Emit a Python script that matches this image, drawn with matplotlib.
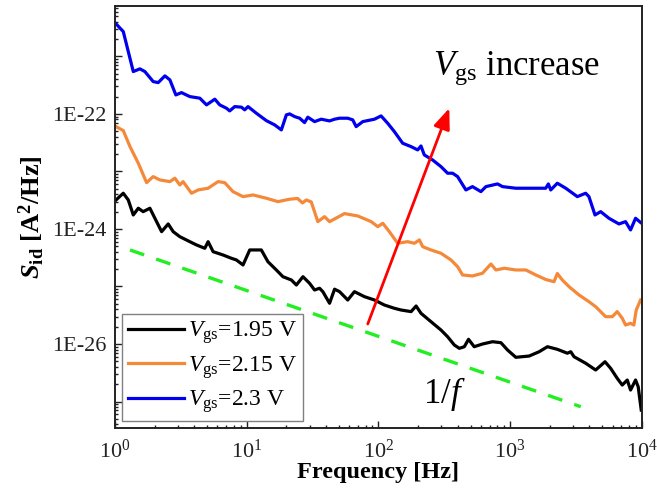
import numpy as np
import matplotlib
matplotlib.use("Agg")
import matplotlib.pyplot as plt
from matplotlib.ticker import FixedLocator, LogLocator, FuncFormatter, NullFormatter

plt.rcParams['font.family'] = ['Liberation Serif', 'DejaVu Serif']
plt.rcParams['mathtext.fontset'] = 'custom'
plt.rcParams['mathtext.rm'] = 'Liberation Serif'
plt.rcParams['mathtext.it'] = 'Liberation Serif:italic'
plt.rcParams['mathtext.bf'] = 'Liberation Serif:bold'
plt.rcParams['mathtext.bfit'] = 'Liberation Serif:italic:bold'

# values, stored as log10(f [Hz]) and log10(S [A^2/Hz])
lgf_195 = [0.008, 0.063, 0.101, 0.139, 0.177, 0.214, 0.265, 0.303, 0.354, 0.404,
           0.442, 0.492, 0.568, 0.619, 0.682, 0.707, 0.745, 0.820, 0.884, 0.922,
           0.972, 1.023, 1.111, 1.161, 1.225, 1.275, 1.339, 1.377, 1.427, 1.477,
           1.515, 1.553, 1.578, 1.629, 1.667, 1.705, 1.767, 1.818, 1.894, 1.970,
           2.045, 2.121, 2.172, 2.248, 2.286, 2.323, 2.399, 2.475, 2.525, 2.576,
           2.614, 2.652, 2.684, 2.727, 2.790, 2.866, 2.930, 2.980, 3.043, 3.144,
           3.220, 3.283, 3.358, 3.434, 3.460, 3.485, 3.573, 3.649, 3.720, 3.763,
           3.813, 3.851, 3.889, 3.914, 3.952, 3.972, 3.995]
lgS_195 = [-23.496, -23.379, -23.496, -23.757, -23.640, -23.699, -23.640, -23.814, -24.047, -23.913,
           -24.047, -24.134, -24.221, -24.278, -24.336, -24.221, -24.395, -24.452, -24.510, -24.539,
           -24.626, -24.365, -24.365, -24.569, -24.713, -24.830, -24.887, -24.974, -24.830, -24.944,
           -25.061, -25.031, -25.090, -25.292, -25.047, -25.090, -25.235, -25.090, -25.177, -25.235,
           -25.322, -25.379, -25.409, -25.437, -25.339, -25.466, -25.612, -25.757, -25.873, -26.017,
           -26.075, -26.047, -25.918, -26.047, -26.000, -25.960, -25.977, -26.104, -26.231, -26.209,
           -26.134, -26.047, -26.092, -26.160, -26.134, -26.221, -26.334, -26.452, -26.308, -26.423,
           -26.597, -26.713, -26.626, -26.800, -26.626, -26.743, -27.148]

lgf_215 = [0.008, 0.063, 0.114, 0.177, 0.240, 0.290, 0.341, 0.417, 0.455, 0.492,
           0.517, 0.581, 0.631, 0.707, 0.783, 0.833, 0.896, 0.972, 1.048, 1.149,
           1.237, 1.326, 1.386, 1.424, 1.452, 1.490, 1.540, 1.591, 1.629, 1.742,
           1.843, 1.945, 1.995, 2.033, 2.083, 2.146, 2.222, 2.273, 2.311, 2.336,
           2.399, 2.475, 2.551, 2.601, 2.639, 2.714, 2.790, 2.854, 2.892, 2.955,
           3.043, 3.119, 3.195, 3.270, 3.333, 3.358, 3.396, 3.447, 3.523, 3.598,
           3.649, 3.725, 3.775, 3.813, 3.851, 3.876, 3.914, 3.939, 3.957, 3.990]
lgS_215 = [-22.221, -22.290, -22.569, -22.857, -23.195, -23.090, -23.148, -23.177, -23.118, -23.235,
           -23.177, -23.379, -23.322, -23.292, -23.177, -23.195, -23.351, -23.438, -23.409, -23.466,
           -23.525, -23.483, -23.470, -23.548, -23.496, -23.530, -23.873, -23.786, -23.873, -23.733,
           -23.774, -23.873, -23.960, -23.901, -24.047, -24.249, -24.221, -24.249, -24.191, -24.308,
           -24.365, -24.423, -24.539, -24.656, -24.800, -24.817, -24.770, -24.609, -24.713, -24.683,
           -24.713, -24.713, -24.800, -24.878, -24.917, -24.774, -24.887, -25.003, -25.148, -25.264,
           -25.351, -25.525, -25.525, -25.437, -25.553, -25.670, -25.640, -25.670, -25.409, -25.235]

lgf_23 = [0.008, 0.063, 0.139, 0.189, 0.227, 0.290, 0.328, 0.379, 0.417, 0.462,
          0.505, 0.568, 0.644, 0.695, 0.758, 0.795, 0.846, 0.871, 0.909, 0.960,
          0.985, 1.010, 1.073, 1.149, 1.212, 1.263, 1.301, 1.326, 1.364, 1.402,
          1.439, 1.464, 1.515, 1.566, 1.629, 1.667, 1.705, 1.767, 1.805, 1.831,
          1.881, 1.970, 2.020, 2.070, 2.121, 2.184, 2.248, 2.298, 2.323, 2.348,
          2.411, 2.475, 2.525, 2.563, 2.601, 2.664, 2.714, 2.778, 2.816, 2.904,
          2.942, 3.043, 3.144, 3.270, 3.290, 3.308, 3.358, 3.422, 3.510, 3.573,
          3.598, 3.644, 3.687, 3.750, 3.826, 3.876, 3.914, 3.952, 3.990]
lgS_23 = [-20.435, -20.569, -21.264, -21.217, -21.264, -21.438, -21.456, -21.339, -21.409, -21.670,
          -21.630, -21.699, -21.727, -21.843, -21.744, -21.843, -21.901, -21.948, -21.873, -21.883,
          -21.930, -21.873, -21.988, -22.117, -22.191, -22.278, -22.017, -22.000, -22.047, -22.075,
          -22.151, -22.057, -22.134, -22.092, -22.122, -22.092, -22.075, -22.075, -22.104, -22.221,
          -22.134, -22.092, -22.035, -22.162, -22.308, -22.510, -22.569, -22.626, -22.557, -22.713,
          -22.800, -22.917, -23.031, -23.031, -23.090, -23.322, -23.264, -23.351, -23.264, -23.217,
          -23.264, -23.292, -23.292, -23.292, -23.217, -23.322, -23.205, -23.292, -23.438, -23.379,
          -23.438, -23.757, -23.699, -23.814, -23.913, -23.873, -24.017, -23.814, -23.887]

# 1/f guide line and the arrow (log10 units)
guide_lgf = [0.114, 3.536]
guide_lgS = [-24.365, -27.090]
arrow_lgf = [1.919, 2.538]
arrow_lgS = [-25.652, -21.901]

y_decades = list(range(-27, -20))

series = [
    (lgf_195, lgS_195, 'black', r'$V_{\mathrm{gs}}$=1.95 V'),
    (lgf_215, lgS_215, '#f5893a', r'$V_{\mathrm{gs}}$=2.15 V'),
    (lgf_23, lgS_23, '#0000ee', r'$V_{\mathrm{gs}}$=2.3 V'),
]

fig = plt.figure(figsize=(6.57, 4.91), dpi=100)
ax = fig.add_axes([0.175, 0.1283, 0.802, 0.860])

for lf, ls, col, lab in series:
    ax.plot(10 ** np.array(lf), 10 ** np.array(ls), color=col, lw=2.3, label=lab)

ax.plot(10 ** np.array(guide_lgf), 10 ** np.array(guide_lgS), color='#22ee22',
        lw=2.4, dashes=(4.5, 3.8))

ax.annotate('', xy=(10 ** arrow_lgf[1], 10 ** arrow_lgS[1]),
            xytext=(10 ** arrow_lgf[0], 10 ** arrow_lgS[0]),
            arrowprops=dict(arrowstyle='-|>,head_length=0.7,head_width=0.28',
                            color='red', lw=2.0, mutation_scale=18, shrinkA=0, shrinkB=0))

ax.set_xscale('log')
ax.set_yscale('log')
ax.set_xlim(1, 1e4)
ax.set_ylim(10 ** -27.46, 10 ** -20.12)

ax.yaxis.set_major_locator(FixedLocator([10.0 ** e for e in y_decades]))
ax.yaxis.set_major_formatter(FuncFormatter(
    lambda v, p: '1E%d' % round(np.log10(v)) if round(np.log10(v)) % 2 == 0 else ''))
ax.yaxis.set_minor_locator(LogLocator(base=10, subs=np.arange(2, 10), numticks=30))
ax.yaxis.set_minor_formatter(NullFormatter())
ax.xaxis.set_minor_locator(LogLocator(base=10, subs=np.arange(2, 10), numticks=30))

ax.tick_params(which='both', direction='in', top=False, right=False, width=1.0, colors='#222222')
ax.tick_params(which='major', length=5)
ax.tick_params(which='minor', length=2.5)
ax.tick_params(axis='y', which='major', labelsize=16, pad=6, labelcolor='#222222')
ax.tick_params(axis='x', which='major', labelsize=16, pad=8, labelcolor='#222222')
for s in ax.spines.values():
    s.set_linewidth(1.4)
    s.set_color('#222222')

ax.set_xlabel('Frequency [Hz]', fontsize=17.5, fontweight='bold', labelpad=0)
ax.set_ylabel(r'$\mathbfit{S}_{\mathbf{id}}$ [A$^{\mathbf{2}}$/Hz]', fontsize=19,
              fontweight='bold', labelpad=4)

ax.text(0.603, 0.837, r'$V_{\mathrm{gs}}$ increase', transform=ax.transAxes,
        fontsize=25, ha='left', va='baseline')
ax.text(0.585, 0.059, r'$1/f$', transform=ax.transAxes, fontsize=25,
        ha='left', va='baseline')

leg = ax.legend(loc='lower left', bbox_to_anchor=(0.013, 0.0165), borderaxespad=0,
                fontsize=17, handlelength=2.4, handletextpad=0.15, borderpad=0.25,
                labelspacing=0.32, fancybox=False, framealpha=1)
leg.get_frame().set_edgecolor('#808080')
leg.get_frame().set_linewidth(1.0)

fig.savefig('out.png', dpi=100)
